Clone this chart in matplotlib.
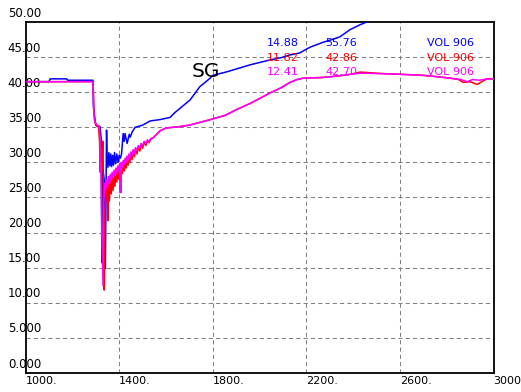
import matplotlib
matplotlib.use('Agg')
import matplotlib.pyplot as plt
import matplotlib.transforms as mtransforms

# series (x = depth/time, y = value)
blue_x = [1000, 1100, 1105, 1175, 1180, 1288, 1290, 1295, 1300, 1305, 1318, 1323, 1326, 1328, 1331, 1336,
          1341, 1346, 1348, 1352, 1356, 1360, 1364, 1368, 1372, 1376, 1380, 1385, 1390, 1395, 1400, 1405,
          1410, 1417, 1421, 1425, 1434, 1443, 1447, 1455, 1468, 1500, 1532, 1575, 1617, 1638, 1660, 1703,
          1745, 1789, 1800, 1860, 1960, 2045, 2090, 2130, 2172, 2215, 2270, 2310, 2344, 2386, 2429, 2472,
          2520, 2600, 2800, 3000]
blue_y = [41.5, 41.5, 41.9, 41.9, 41.7, 41.7, 38.0, 36.5, 35.4, 35.2, 35.1, 33.4, 15.7, 33.0, 29.0, 27.5,
          14.88, 34.6, 31.0, 29.3, 31.4, 29.5, 31.2, 29.4, 31.0, 29.6, 31.4, 29.8, 31.2, 30.0, 31.0, 30.6,
          31.2, 34.1, 33.0, 34.1, 32.7, 34.0, 33.6, 34.3, 35.0, 35.3, 35.9, 36.1, 36.4, 37.1, 37.7, 38.9,
          40.8, 42.0, 42.4, 42.9, 43.9, 44.6, 44.9, 45.3, 45.6, 46.4, 47.1, 47.5, 47.9, 48.9, 49.6, 50.2,
          51.0, 52.5, 54.8, 55.76]

red_x = [1000, 1288, 1290, 1292, 1296, 1300, 1312, 1316, 1319, 1322, 1326, 1330, 1333, 1336, 1339, 1342,
         1346, 1349, 1352, 1355, 1358, 1362, 1366, 1370, 1374, 1378, 1382, 1386, 1390, 1394, 1398, 1402,
         1406, 1410, 1414, 1418, 1422, 1426, 1430, 1434, 1438, 1442, 1446, 1450, 1455, 1460, 1465, 1470,
         1476, 1482, 1488, 1494, 1500, 1507, 1514, 1521, 1528, 1535, 1545, 1560, 1575, 1600, 1660, 1700,
         1745, 1790, 1853, 1900, 1960, 2000, 2045, 2090, 2130, 2160, 2186, 2271, 2330, 2380, 2430, 2460,
         2500, 2560, 2600, 2700, 2760, 2814, 2850, 2870, 2900, 2929, 2950, 2972, 3000]
red_y = [41.5, 41.5, 40.0, 37.0, 35.8, 35.3, 35.0, 33.0, 28.6, 32.0, 29.0, 33.0, 20.0, 11.82, 23.0, 24.5,
         26.0, 27.0, 21.7, 27.5, 24.5, 28.0, 25.5, 28.3, 26.0, 28.6, 26.6, 28.9, 27.2, 29.3, 27.6, 29.6,
         28.0, 29.9, 28.4, 30.2, 28.8, 30.5, 29.2, 30.8, 29.6, 31.1, 30.0, 31.4, 30.4, 31.7, 30.8, 32.0,
         31.2, 32.3, 31.6, 32.6, 32.0, 32.9, 32.4, 33.1, 32.8, 33.3, 33.5, 34.0, 34.5, 34.9, 35.1, 35.3,
         35.7, 36.1, 36.7, 37.5, 38.4, 39.1, 39.9, 40.6, 41.4, 41.8, 42.0, 42.1, 42.3, 42.5, 42.86, 42.8,
         42.7, 42.6, 42.55, 42.4, 42.2, 42.0, 41.8, 41.4, 41.5, 41.1, 41.5, 41.9, 41.9]

mag_x = [1000, 1288, 1291, 1295, 1300, 1305, 1315, 1318, 1320, 1322, 1326, 1331, 1334, 1338, 1342, 1346,
         1350, 1354, 1358, 1362, 1366, 1370, 1374, 1378, 1382, 1386, 1390, 1394, 1398, 1402, 1404, 1406,
         1408, 1410, 1414, 1418, 1422, 1426, 1430, 1434, 1438, 1442, 1446, 1450, 1455, 1460, 1465, 1470,
         1476, 1482, 1488, 1494, 1500, 1507, 1514, 1521, 1528, 1535, 1545, 1560, 1575, 1600, 1660, 1700,
         1745, 1790, 1853, 1900, 1960, 2000, 2045, 2090, 2130, 2160, 2186, 2271, 2330, 2380, 2420, 2460,
         2500, 2560, 2600, 2700, 2760, 2814, 2860, 2887, 2910, 2940, 2972, 3000]
mag_y = [41.5, 41.5, 37.5, 36.0, 35.5, 35.3, 35.2, 33.4, 28.6, 30.0, 20.0, 12.41, 24.0, 27.0, 26.0, 27.5,
         26.5, 28.0, 27.0, 28.3, 27.4, 28.6, 27.8, 28.9, 28.1, 29.2, 28.4, 29.5, 28.8, 29.8, 25.7, 29.9,
         25.7, 30.0, 29.3, 30.3, 29.7, 30.6, 30.0, 30.9, 30.3, 31.2, 30.6, 31.5, 31.0, 31.8, 31.3, 32.1,
         31.7, 32.4, 32.0, 32.7, 32.4, 33.0, 32.7, 33.2, 33.0, 33.4, 33.5, 34.0, 34.5, 34.9, 35.1, 35.3,
         35.7, 36.1, 36.7, 37.5, 38.4, 39.1, 39.9, 40.6, 41.4, 41.8, 42.0, 42.1, 42.3, 42.5, 42.7, 42.7,
         42.65, 42.6, 42.55, 42.4, 42.2, 42.0, 41.8, 41.5, 41.8, 41.7, 41.9, 41.9]

xticks = [1000, 1400, 1800, 2200, 2600, 3000]
xtick_labels = ['1000.', '1400.', '1800.', '2200.', '2600.', '3000']
yticks = [0, 5, 10, 15, 20, 25, 30, 35, 40, 45, 50]
ytick_labels = ['0.000', '5.000', '10.00', '15.00', '20.00', '25.00', '30.00', '35.00', '40.00', '45.00', '50.00']

# legend block: min, max, name per curve
stats_min = ['14.88', '11.82', '12.41']
stats_max = ['55.76', '42.86', '42.70']
stats_name = ['VOL 906', 'VOL 906', 'VOL 906']
colors = ['#0000ff', '#ff0000', '#ff00ff']

fig = plt.figure(figsize=(5.21, 3.92), dpi=100)
ax = fig.add_axes([0.0491, 0.0485, 0.8983, 0.8954])
ax.set_xlim(1000, 3000)
ax.set_ylim(0, 50)

for v in xticks[1:-1]:
    ax.axvline(v, color='#808080', lw=0.75, ls=(0, (4, 3)), zorder=1)
for v in yticks[1:-1]:
    ax.axhline(v, color='#808080', lw=0.75, ls=(0, (4, 3)), zorder=1)

ax.plot(blue_x, blue_y, color=colors[0], lw=1.1, zorder=3)
ax.plot(red_x, red_y, color=colors[1], lw=1.1, zorder=4)
ax.plot(mag_x, mag_y, color=colors[2], lw=1.1, zorder=5)

ax.set_xticks([])
ax.set_yticks([])
for s in ax.spines.values():
    s.set_linewidth(1.3)
    s.set_color('black')

# tick labels as free text (sit above gridlines / below axis like the original)
ytrans = mtransforms.blended_transform_factory(ax.transAxes, ax.transData)
for v, lab in zip(yticks, ytick_labels):
    ax.text(-0.038, v + 0.35, lab, transform=ytrans, ha='left', va='bottom', fontsize=8.5, clip_on=False)
xtrans = mtransforms.blended_transform_factory(ax.transData, ax.transAxes)
for v, lab in zip(xticks, xtick_labels):
    ax.text(v, -0.008, lab, transform=xtrans, ha='left', va='top', fontsize=8, clip_on=False)

rows = [0.939, 0.897, 0.858]
for i in range(3):
    ax.text(0.549, rows[i], stats_min[i], transform=ax.transAxes, ha='center', va='center',
            fontsize=8, color=colors[i], zorder=6)
    ax.text(0.675, rows[i], stats_max[i], transform=ax.transAxes, ha='center', va='center',
            fontsize=8, color=colors[i], zorder=6)
    ax.text(0.907, rows[i], stats_name[i], transform=ax.transAxes, ha='center', va='center',
            fontsize=8, color=colors[i], zorder=6)

ax.text(1770, 43.0, 'SG', ha='center', va='center', fontsize=14.5, color='black', zorder=6)

fig.savefig('out.png', dpi=100)
